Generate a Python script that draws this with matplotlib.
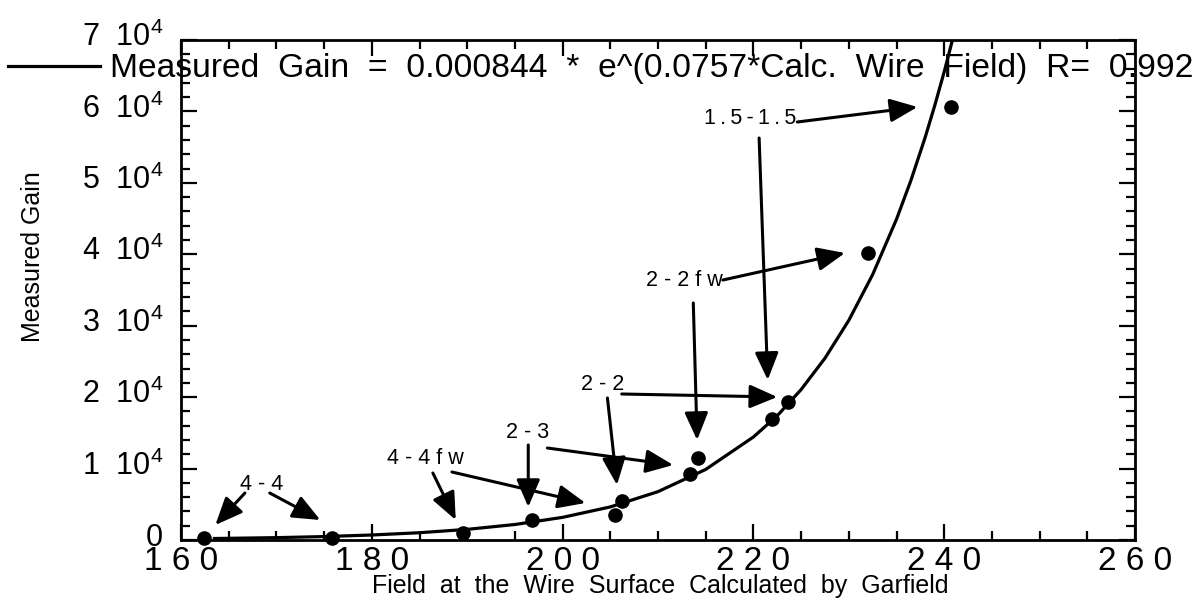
import matplotlib
matplotlib.use('Agg')
import matplotlib.pyplot as plt
from matplotlib.ticker import MultipleLocator, FuncFormatter
from matplotlib.patches import ArrowStyle
from matplotlib.transforms import ScaledTranslation

plt.rcParams['font.family'] = ['Liberation Sans', 'DejaVu Sans']
plt.rcParams['mathtext.fontset'] = 'custom'
plt.rcParams['mathtext.rm'] = 'Liberation Sans'

# measured points (field at wire surface, measured gain)
field = [162.4, 175.8, 189.6, 196.8, 205.5, 206.2, 213.4, 214.2, 222.0, 223.6, 232.0, 240.7]
gain = [300, 250, 980, 2800, 3500, 5460, 9240, 11480, 16940, 19320, 40180, 60620]

# exponential fit curve
fit_field = [163.5, 170, 175, 180, 185, 190, 195, 200, 205, 210, 215, 220,
             222.5, 225, 227.5, 230, 232.5, 235, 236.5, 238, 239, 240, 241, 242]
fit_gain = [210, 330, 480, 700, 1020, 1490, 2170, 3170, 4630, 6770, 9880, 14420,
            17400, 21060, 25450, 30750, 37160, 44900, 50300, 56350, 60780, 65550, 70700, 76300]
fit_label = 'Measured  Gain  =  0.000844  *  e^(0.0757*Calc.  Wire  Field)  R=  0.992'

# annotation labels
ann_text = ['4 - 4', '4 - 4 f w', '2 - 3', '2 - 2', '2 - 2 f w',
            '1\u2009.\u20095\u2009-\u20091\u2009.\u20095']
ann_xy = [(168.5, 7840), (185.6, 11480), (196.3, 14980), (204.2, 21700), (212.8, 36400), (219.7, 59080)]
# arrows: (start, tip) for each label
ann_arrows = [
    [((166.7, 6580), (163.6, 2100)), ((169.3, 6580), (174.6, 2800))],
    [((186.4, 9380), (188.8, 2800)), ((188.4, 9520), (202.4, 5180))],
    [((196.4, 13300), (196.4, 4620)), ((198.4, 12880), (211.6, 10500))],
    [((204.7, 19880), (205.7, 7700)), ((206.2, 20440), (222.5, 20020))],
    [((216.8, 36400), (229.6, 40180)), ((213.7, 33180), (214.1, 14000))],
    [((224.6, 58520), (237.2, 60620)), ((220.6, 56280), (221.5, 22400))],
]

fig = plt.figure(figsize=(12.04, 5.99), dpi=100)
ax = fig.add_axes([181 / 1204, 59 / 599, 954 / 1204, 500 / 599])

line, = ax.plot(fit_field, fit_gain, color='black', lw=2.3, solid_joinstyle='round')
ax.plot(field, gain, 'o', color='black', markersize=9.5, clip_on=False, zorder=5)

head = ArrowStyle('-|>', head_length=0.7, head_width=0.3)
for (tx, ty), label, arrows in zip(ann_xy, ann_text, ann_arrows):
    ax.text(tx, ty, label, fontsize=15.5, ha='center', va='center')
    for start, tip in arrows:
        ax.annotate('', xy=tip, xytext=start,
                    arrowprops=dict(arrowstyle=head, color='black', lw=2.2,
                                    mutation_scale=24, shrinkA=0, shrinkB=0))

ax.set_xlim(160, 260)
ax.set_ylim(0, 70000)
ax.set_xticks(range(160, 261, 20))
ax.xaxis.set_minor_locator(MultipleLocator(5))
ax.set_yticks(range(0, 70001, 10000))
ax.yaxis.set_minor_locator(MultipleLocator(2000))
ax.xaxis.set_major_formatter(FuncFormatter(lambda v, p: ' '.join(str(int(v)))))
ax.yaxis.set_major_formatter(FuncFormatter(
    lambda v, p: '0' if v == 0 else '%d  $\\mathregular{10^4}$' % int(v / 10000)))

ax.tick_params(which='both', direction='in', top=True, right=True, width=1.6)
ax.tick_params(which='major', length=11.5)
ax.tick_params(which='minor', length=6.5)
ax.tick_params(axis='x', labelsize=24, pad=4)
ax.tick_params(axis='y', labelsize=22, pad=13)
for s in ax.spines.values():
    s.set_linewidth(2)

up = ScaledTranslation(0, 6 / 100, fig.dpi_scale_trans)
for t in ax.yaxis.get_major_ticks():
    t.label1.set_transform(t.label1.get_transform() + up)

ax.text(0.502, -46 / 500, 'Field  at  the  Wire  Surface  Calculated  by  Garfield',
        transform=ax.transAxes, fontsize=18, ha='center', va='center')
ax.text((33 - 181) / 954, (540 - 257) / 500, 'Measured Gain',
        transform=ax.transAxes, fontsize=18, rotation=90, ha='center', va='center')

fig.legend([line], [fit_label], loc='center left', bbox_to_anchor=(8 / 1204, 1 - 69 / 599),
           frameon=False, fontsize=24.2, handlelength=2.75, handletextpad=0.27,
           borderpad=0, borderaxespad=0)

fig.savefig('out.png', dpi=100)
